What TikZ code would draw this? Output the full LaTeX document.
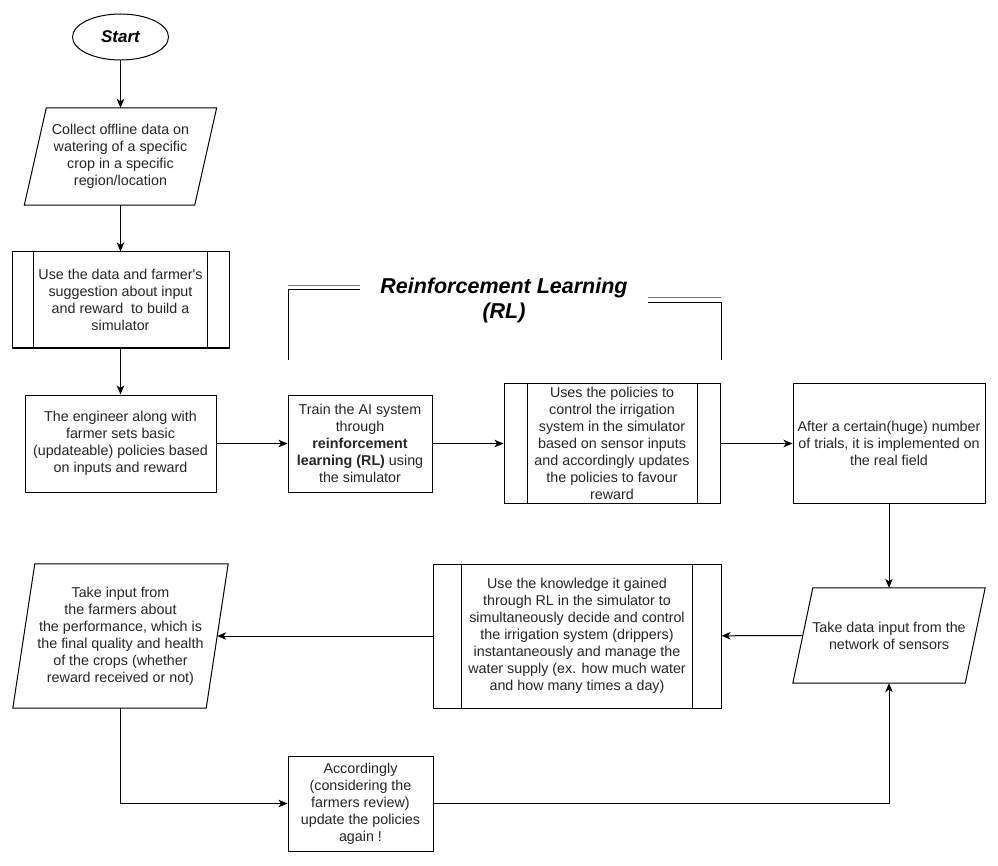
\documentclass[tikz,border=0pt]{standalone}
\usepackage{fontspec}
\setmainfont{Liberation Sans}
\newfontfamily\arialplain{Liberation Sans}
\usetikzlibrary{arrows.meta,calc,shapes.geometric}
\begin{document}
\begin{tikzpicture}[x=1pt,y=-1pt,
  txt/.style={align=center,text=black!85,font=\arialplain\fontsize{14.3}{17}\selectfont,inner sep=2pt},
  boxs/.style={txt,draw=black,line width=1pt},
  para/.style={txt},
  conn/.style={line width=1pt,-{Stealth[length=9pt,width=7.5pt,inset=2.5pt]}},
  plain/.style={line width=1pt},
  ttl/.style={align=center,font=\fontsize{21.5}{25}\selectfont\bfseries\itshape}
]
\useasboundingbox (0,0) rectangle (998,866);
\fill[white] (0,0) rectangle (998,866);

% Start
\node[ellipse,draw,line width=1pt,minimum width=96pt,minimum height=46pt,inner sep=0pt,font=\fontsize{17}{20}\selectfont\bfseries\itshape] (start) at (120.5,37) {Start};

% Parallelogram 1
\node[para,minimum width=170pt,minimum height=97pt] (p1) at (120.5,156.5) {Collect offline data on\\watering of a specific\\crop in a specific\\region/location};
\draw[plain] ($(p1.north west)+(11,0)$) -- ($(p1.north east)+(11,0)$) -- ($(p1.south east)+(-11,0)$) -- ($(p1.south west)+(-11,0)$) -- cycle;

% Predefined process 2
\node[boxs,minimum width=217pt,minimum height=96pt] (b2) at (120.5,300) {Use the data and farmer's\\suggestion about input\\and reward\ \ to build a\\simulator};
\draw[plain] ($(b2.north west)+(22,0)$) -- ($(b2.south west)+(22,0)$);
\draw[plain] ($(b2.north east)+(-22,0)$) -- ($(b2.south east)+(-22,0)$);

% Box 3
\node[boxs,minimum width=191pt,minimum height=97pt] (b3) at (120.5,443.5) {The engineer along with\\farmer sets basic\\(updateable) policies based\\on inputs and reward};

% Box 4
\node[boxs,minimum width=144pt,minimum height=97pt] (b4) at (360,443.5) {Train the AI system\\through\\\textbf{reinforcement}\\\textbf{learning (RL)} using\\the simulator};

% Predefined process 5
\node[boxs,minimum width=216pt,minimum height=120pt] (b5) at (612,443.5) {Uses the policies to\\control the irrigation\\system in the simulator\\based on sensor inputs\\and accordingly updates\\the policies to favour\\reward};
\draw[plain] ($(b5.north west)+(24,0)$) -- ($(b5.south west)+(24,0)$);
\draw[plain] ($(b5.north east)+(-23,0)$) -- ($(b5.south east)+(-23,0)$);

% Box 6
\node[boxs,minimum width=192pt,minimum height=120pt] (b6) at (889,443.5) {After a certain(huge) number\\of trials, it is implemented on\\the real field};

% Parallelogram 7
\node[para,minimum width=172pt,minimum height=95pt] (p7) at (889,635.5) {Take data input from the\\network of sensors};
\draw[plain] ($(p7.north west)+(10,0)$) -- ($(p7.north east)+(10,0)$) -- ($(p7.south east)+(-10,0)$) -- ($(p7.south west)+(-10,0)$) -- cycle;

% Predefined process 8
\node[boxs,minimum width=288pt,minimum height=144pt] (b8) at (577,636) {Use the knowledge it gained\\through RL in the simulator to\\simultaneously decide and control\\the irrigation system (drippers)\\instantaneously and manage the\\water supply (ex. how much water\\and how many times a day)};
\draw[plain] ($(b8.north west)+(29,0)$) -- ($(b8.south west)+(29,0)$);
\draw[plain] ($(b8.north east)+(-29,0)$) -- ($(b8.south east)+(-29,0)$);

% Parallelogram 9
\node[para,minimum width=193pt,minimum height=144pt] (p9) at (120.5,636) {Take input from\\the farmers about\\the performance, which is\\the final quality and health\\of the crops (whether\\reward received or not)};
\draw[plain] ($(p9.north west)+(11,0)$) -- ($(p9.north east)+(11,0)$) -- ($(p9.south east)+(-11,0)$) -- ($(p9.south west)+(-11,0)$) -- cycle;

% Box 10
\node[boxs,minimum width=145pt,minimum height=95pt] (b10) at (360.5,803.5) {Accordingly\\(considering the\\farmers review)\\update the policies\\again !};

% RL bracket and title
\node[ttl] (title) at (504,300) {Reinforcement Learning\\(RL)};
\coordinate (la) at (288,285.5);
\coordinate (lb) at (360,285.5);
\coordinate (lc) at (288,290);
\coordinate (ld) at (360,290);
\coordinate (le) at (288,360);
\draw[line width=1pt,black!55] (la) -- (lb);
\draw[plain] (ld) -- (lc) -- (le);
\coordinate (ra) at (648,298);
\coordinate (rb) at (721,298);
\coordinate (rc) at (648,303);
\coordinate (rd) at (721,303);
\coordinate (re) at (721,360);
\draw[line width=1pt,black!55] (ra) -- (rb);
\draw[plain] (rc) -- (rd) -- (re);

% Connectors
\draw[conn] (start) -- (p1);
\draw[conn] (p1) -- (b2);
\draw[conn] (b2) -- (b3);
\draw[conn] (b3) -- (b4);
\draw[conn] (b4) -- (b5);
\draw[conn] (b5) -- (b6);
\draw[conn] (b6) -- (p7);
\draw[conn] (p7) -- (b8);
\draw[conn] (b8) -- (p9);
\draw[conn] (p9.south) |- (b10.west);
\draw[conn] (b10.east) -| (p7.south);
\end{tikzpicture}
\end{document}
